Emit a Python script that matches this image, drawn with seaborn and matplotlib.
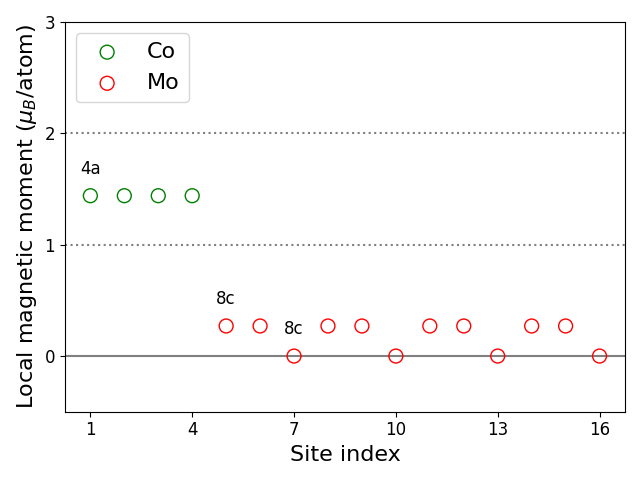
import matplotlib
matplotlib.use("Agg")
import matplotlib.pyplot as plt
import seaborn as sns
import pandas as pd

plt.rcParams['font.family'] = ['DejaVu Sans']

co_sites = [1, 2, 3, 4]
co_moments = [1.44, 1.44, 1.44, 1.44]
mo_sites = [5, 6, 7, 8, 9, 10, 11, 12, 13, 14, 15, 16]
mo_moments = [0.27, 0.27, 0.0, 0.27, 0.27, 0.0, 0.27, 0.27, 0.0, 0.27, 0.27, 0.0]
labels = [("4a", 1, 1.6), ("8c", 5, 0.43), ("8c", 7, 0.16)]
xticks = [1, 4, 7, 10, 13, 16]

df = pd.DataFrame({
    "site": co_sites + mo_sites,
    "moment": co_moments + mo_moments,
    "elem": ["Co"] * len(co_sites) + ["Mo"] * len(mo_sites),
})

fig, ax = plt.subplots(figsize=(6.4, 4.8), dpi=100)
ax.axhline(0, color="gray", lw=1.5, zorder=0)
ax.axhline(1, color="gray", lw=1.5, ls=":", zorder=0)
ax.axhline(2, color="gray", lw=1.5, ls=":", zorder=0)

for elem, col in [("Co", "green"), ("Mo", "red")]:
    sub = df[df.elem == elem]
    sns.scatterplot(data=sub, x="site", y="moment", ax=ax, s=100,
                    facecolor="none", edgecolor=col, linewidth=1.0, label=elem)

for t, x, y in labels:
    ax.text(x, y, t, ha="center", va="bottom", fontsize=12, color="black")

ax.set_ylim(-0.5, 3)
ax.set_xticks(xticks)
ax.set_yticks([0, 1, 2, 3])
ax.tick_params(labelsize=12)
ax.set_xlabel("Site index", fontsize=16)
ax.set_ylabel(r"Local magnetic moment ($\mu_B$/atom)", fontsize=16)
ax.legend(fontsize=16, loc="upper left")
fig.tight_layout()
fig.savefig("out.png", dpi=100)
